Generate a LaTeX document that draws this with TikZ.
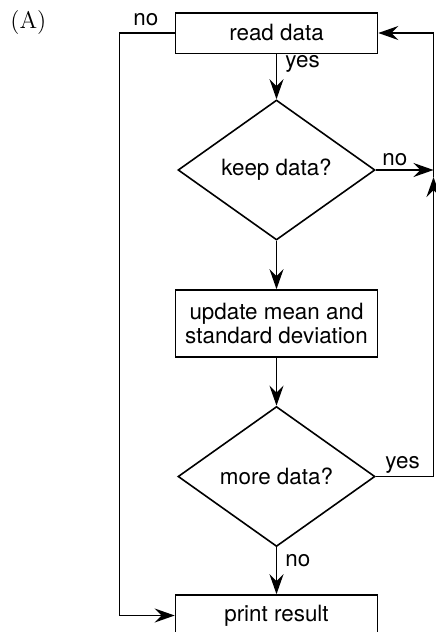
\documentclass[tikz,border=0pt]{standalone}
\usepackage{fontspec}
\setsansfont{TeX Gyre Heros}
\usetikzlibrary{shapes.geometric,arrows.meta}
\begin{document}
\begin{tikzpicture}[x=0.5pt,y=-0.5pt,
  every node/.style={font=\sffamily\fontsize{11.2}{11.8}\selectfont},
  procbox/.style={draw,line width=0.8pt,minimum width=101pt,inner sep=0pt,align=center},
  decide/.style={draw,diamond,line width=0.8pt,minimum width=98.5pt,minimum height=70pt,inner sep=0pt,aspect=1.4},
  arr/.style={line width=0.8pt,-{Stealth[length=10pt,width=7pt,inset=3.5pt]}},
  lbl/.style={inner sep=0pt,anchor=base west}]
\useasboundingbox (0,0) rectangle (435,632);
\node[font=\fontsize{12}{14}\selectfont,inner sep=0pt,anchor=base west] (tag) at (10,28) {(A)};
\node[procbox,minimum height=20.3pt] (read) at (276.5,33) {read data};
\node[decide] (keep) at (276.5,170) {keep data?};
\node[procbox,minimum height=33.5pt] (upd) at (276.5,323.5) {update mean and\\standard deviation};
\node[decide] (more) at (276.5,476.5) {more data?};
\node[procbox,minimum height=20.5pt] (print) at (276.5,615.5) {print result};
\coordinate (jn) at (433.5,172);
\coordinate (ju) at (433.5,177);
\coordinate (lc) at (119.3,33);
\draw[arr] (read.south) -- (keep.north);
\draw[arr] (keep.south) -- (upd.north);
\draw[arr] (upd.south) -- (more.north);
\draw[arr] (more.south) -- (print.north);
\draw[arr] (keep.east) -- (keep.east -| jn);
\draw[arr] (more.east) -| (ju);
\draw[arr] (ju) |- (read.east);
\draw[arr] (read.west) -- (lc) |- (print.west);
\node[lbl] (l1) at (133,25) {no};
\node[lbl] (l2) at (285,67) {yes};
\node[lbl] (l3) at (382,165) {no};
\node[lbl] (l4) at (385,468) {yes};
\node[lbl] (l5) at (285,566) {no};
\end{tikzpicture}
\end{document}
